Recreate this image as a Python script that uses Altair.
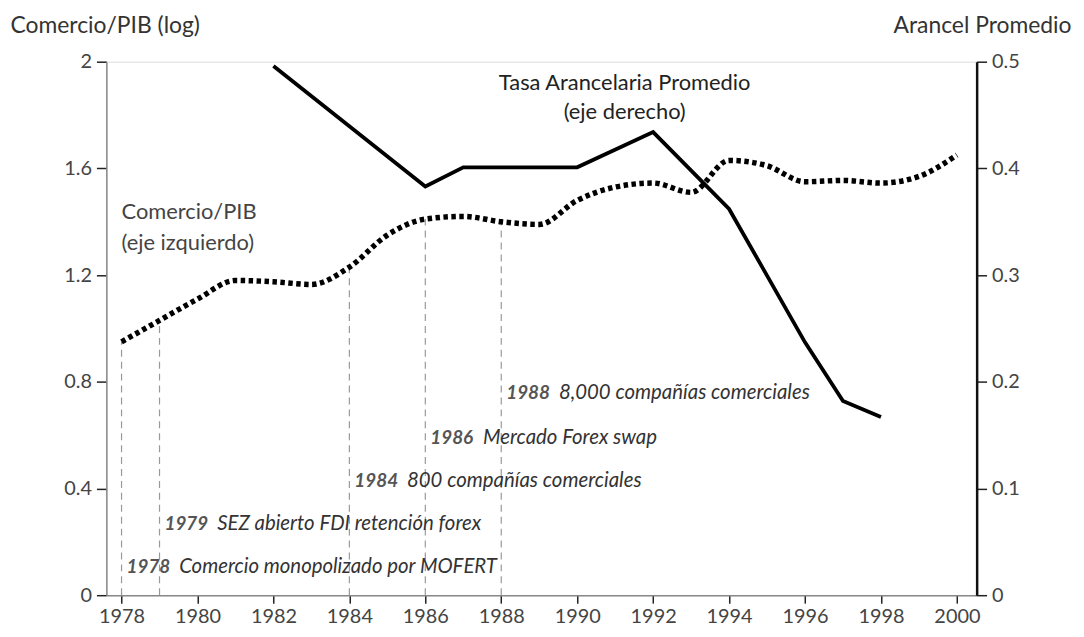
import altair as alt
import pandas as pd

# ---------------- data ----------------
years = list(range(1978, 2001))
trade_gdp = [0.95, 1.03, 1.11, 1.18, 1.175, 1.165, 1.23, 1.35, 1.41, 1.42, 1.40,
             1.39, 1.48, 1.53, 1.545, 1.51, 1.63, 1.61, 1.55, 1.555, 1.545, 1.57, 1.65]

tariff_years = [1982, 1986, 1987, 1990, 1992, 1994, 1996, 1997, 1998]
tariff = [0.496, 0.383, 0.401, 0.401, 0.434, 0.362, 0.237, 0.182, 0.167]

event_years = [1978, 1979, 1984, 1986, 1988]
event_labels = ["Comercio monopolizado por MOFERT",
                "SEZ abierto FDI retención forex",
                "800 compañías comerciales",
                "Mercado  Forex swap",
                "8,000 compañías comerciales"]
event_levels = [0.104, 0.268, 0.428, 0.588, 0.756]

x_ticks = list(range(1978, 2001, 2))
left_ticks = [0, 0.4, 0.8, 1.2, 1.6, 2]
right_ticks = [0, 0.1, 0.2, 0.3, 0.4, 0.5]

series_labels = ["Tasa Arancelaria Promedio", "(eje derecho)",
                 "Comercio/PIB", "(eje izquierdo)"]
series_label_x = [1991.25, 1991.25, 1978, 1978]
series_label_y = [1.92, 1.81, 1.435, 1.32]
series_label_align = ["center", "center", "left", "left"]

# ---------------- tables ----------------
trade_df = pd.DataFrame({"year": years, "value": trade_gdp})
tariff_df = pd.DataFrame({"year": tariff_years, "value": tariff})
lookup = dict(zip(years, trade_gdp))
events_df = pd.DataFrame({
    "year": event_years,
    "yr": [str(y) for y in event_years],
    "label": event_labels,
    "level": event_levels,
    "top": [lookup[y] for y in event_years],
    "bottom": [0] * len(event_years),
})
labels_df = pd.DataFrame({"text": series_labels, "x": series_label_x,
                          "y": series_label_y, "align": series_label_align})

FONT = "Lato"
xscale = alt.Scale(domain=[1977.6, 2000.52], nice=False, zero=False)
yleft = alt.Scale(domain=[0, 2], nice=False)
yright = alt.Scale(domain=[0, 0.5], nice=False)

x_axis = alt.Axis(values=x_ticks, format="d", title=None, grid=False,
                  tickSize=8, tickWidth=1.5, tickColor="#222",
                  domainColor="#888", domainWidth=1.5,
                  labelFontSize=20, labelColor="#444", labelPadding=3,
                  labelFont=FONT)

left_axis = alt.Axis(values=left_ticks, format="~g", grid=False, orient="left",
                     title="Comercio/PIB (log)", titleAngle=0, titleAlign="left",
                     titleBaseline="middle", titleX=-97, titleY=-36,
                     titleFontSize=23, titleFontWeight="normal", titleColor="#333",
                     titleFont=FONT,
                     tickSize=10, tickWidth=1.5, tickColor="#222",
                     domainColor="#888", domainWidth=1.5,
                     labelFontSize=20, labelColor="#444", labelPadding=5,
                     labelFont=FONT)

right_axis = alt.Axis(values=right_ticks, format="~g", grid=False, orient="right",
                      title="Arancel Promedio", titleAngle=0, titleAlign="right",
                      titleBaseline="middle", titleX=95, titleY=-36,
                      titleFontSize=23, titleFontWeight="normal", titleColor="#333",
                      titleFont=FONT,
                      tickSize=10, tickWidth=1.5, tickColor="#222",
                      domainColor="#111", domainWidth=2.5,
                      labelFontSize=20, labelColor="#444", labelPadding=5,
                      labelFont=FONT)

rules = alt.Chart(events_df).mark_rule(
    color="#999", strokeDash=[7, 5], strokeWidth=1.2
).encode(
    x=alt.X("year:Q", scale=xscale, axis=x_axis),
    y=alt.Y("bottom:Q", scale=yleft, axis=left_axis),
    y2="top:Q",
)

trade_line = alt.Chart(trade_df).mark_line(
    color="#000", strokeWidth=5.5, strokeDash=[4.5, 3.5], interpolate="monotone"
).encode(
    x=alt.X("year:Q", scale=xscale),
    y=alt.Y("value:Q", scale=yleft),
)

ev_year = alt.Chart(events_df).mark_text(
    font=FONT, fontSize=19, fontStyle="italic", fontWeight="bold",
    color="#555", align="left", baseline="middle", dx=5
).encode(
    x=alt.X("year:Q", scale=xscale),
    y=alt.Y("level:Q", scale=yleft),
    text="yr:N",
)

ev_text = alt.Chart(events_df).mark_text(
    font=FONT, fontSize=20.5, fontStyle="italic",
    color="#333", align="left", baseline="middle", dx=58
).encode(
    x=alt.X("year:Q", scale=xscale),
    y=alt.Y("level:Q", scale=yleft),
    text="label:N",
)

lab_center = alt.Chart(labels_df[labels_df["align"] == "center"]).mark_text(
    font=FONT, fontSize=22, color="#222", align="center", baseline="middle"
).encode(
    x=alt.X("x:Q", scale=xscale),
    y=alt.Y("y:Q", scale=yleft),
    text="text:N",
)

lab_left = alt.Chart(labels_df[labels_df["align"] == "left"]).mark_text(
    font=FONT, fontSize=22, color="#444", align="left", baseline="middle"
).encode(
    x=alt.X("x:Q", scale=xscale),
    y=alt.Y("y:Q", scale=yleft),
    text="text:N",
)

left_group = alt.layer(rules, trade_line, ev_year, ev_text, lab_center, lab_left)

tariff_line = alt.Chart(tariff_df).mark_line(
    color="#000", strokeWidth=3.8
).encode(
    x=alt.X("year:Q", scale=xscale),
    y=alt.Y("value:Q", scale=yright, axis=right_axis),
)

chart = alt.layer(left_group, tariff_line).resolve_scale(
    y="independent"
).properties(
    width=876, height=537,
    padding={"left": 2, "top": 5, "right": 5, "bottom": 5},
    background="white",
).configure_view(
    stroke="#888", strokeWidth=1.5
).configure(font=FONT)

chart.save("out.html", embed_options={"renderer": "svg", "actions": False})
